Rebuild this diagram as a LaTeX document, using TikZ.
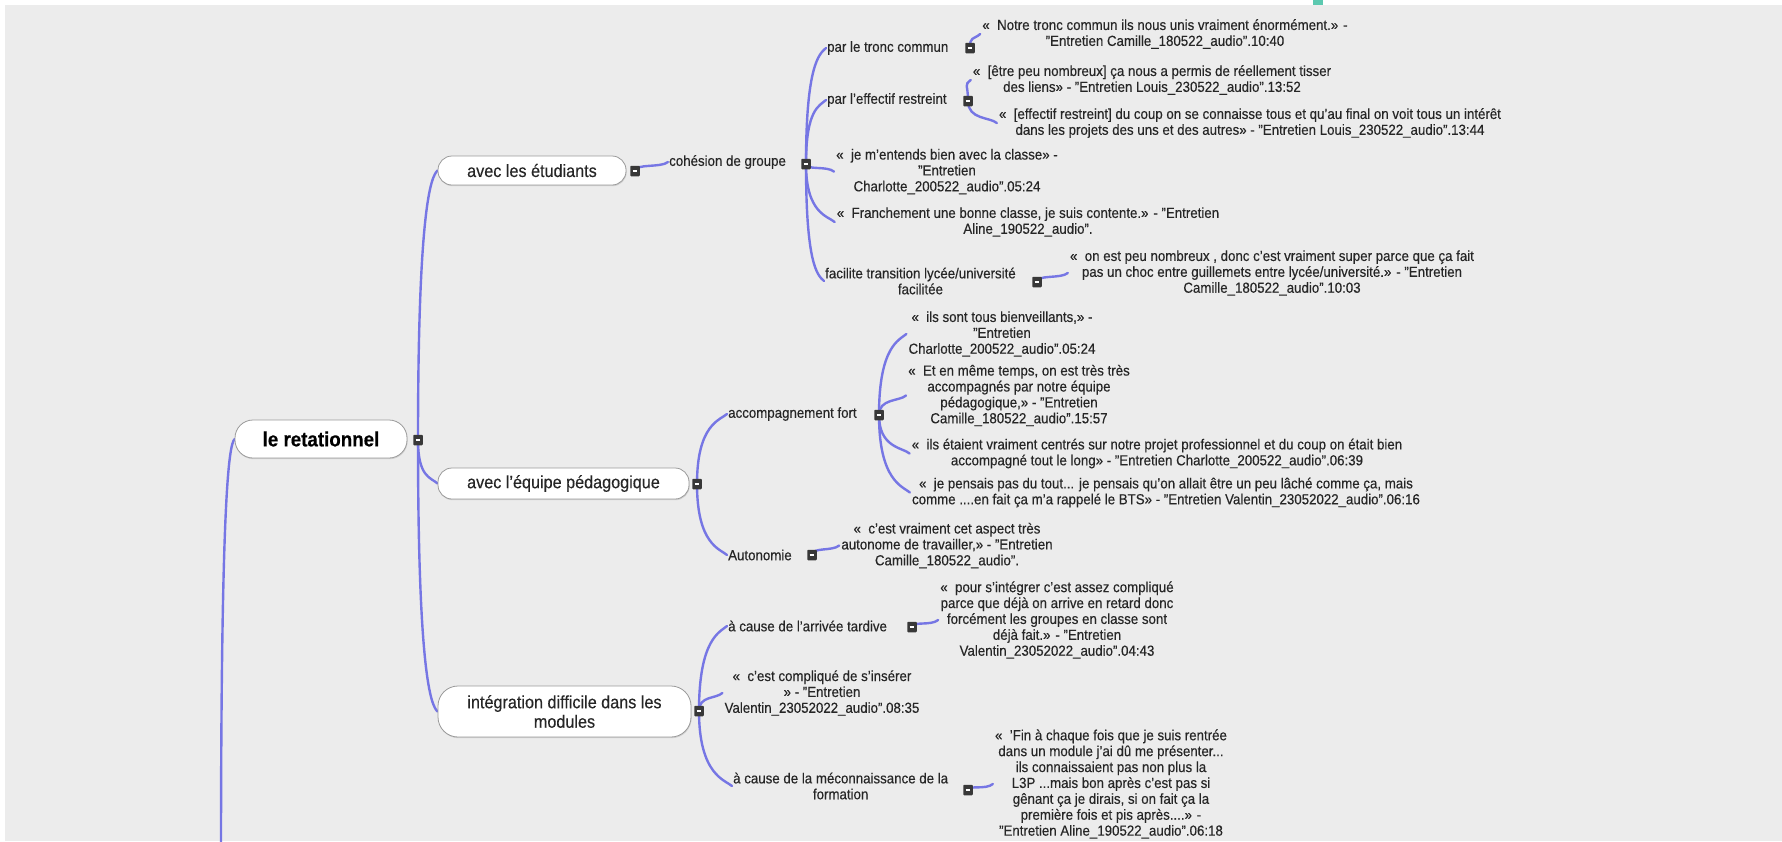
\documentclass[tikz,border=0pt]{standalone}
\usepackage{fontspec}
\setmainfont{Liberation Sans}[FakeStretch=0.91,FakeBold=0.3]
\usetikzlibrary{calc,shadows}
\definecolor{bgc}{HTML}{ECECEC}
\definecolor{linec}{HTML}{7676E4}
\definecolor{txtc}{HTML}{262626}
\definecolor{boxb}{HTML}{9A9A9A}
\definecolor{sqc}{HTML}{383838}
\definecolor{tealc}{HTML}{5CC9B0}
\pgfdeclarelayer{back}
\pgfdeclarelayer{conn}
\pgfsetlayers{back,conn,main}
\newcommand\fsS{\fontsize{14.6}{15.9}\selectfont}
\newcommand\fsM{\fontsize{17.8}{19.5}\selectfont}
\newcommand\fsL{\fontsize{20.6}{22}\selectfont\bfseries}
\begin{document}
\begin{tikzpicture}[x=1pt,y=-1pt,
  lvlbox/.style={draw=boxb, line width=0.8pt, fill=white, rounded corners=14pt, inner sep=0pt, align=center, text=txtc, font=\fsM, drop shadow={shadow xshift=0.6pt, shadow yshift=-1.2pt, opacity=0.25}},
  lbl/.style={anchor=west, inner sep=1pt, text=txtc, font=\fsS},
  lblc/.style={inner sep=1pt, text=txtc, font=\fsS, align=center},
  quote/.style={inner sep=2pt, text=txtc, font=\fsS, align=center},
  sq/.style={fill=sqc, minimum width=9.5pt, minimum height=10.5pt, inner sep=0pt, rounded corners=0.8pt, path picture={\draw[white,line width=1.2pt] ([xshift=-2.4pt]path picture bounding box.center) -- ([xshift=2.4pt]path picture bounding box.center);}},
  conn/.style={draw=linec, line width=2.4pt, line cap=round},
]
\begin{pgfonlayer}{back}
\fill[bgc] (0,0) rectangle (1782,841);
\fill[white] (0,0) rectangle (1782,5);
\fill[white] (0,0) rectangle (5,841);
\fill[tealc] (1313,0) rectangle (1323,5);
\end{pgfonlayer}
\useasboundingbox (0,0) rectangle (1782,841);

% level 0 and 1
\node[lvlbox, minimum width=172pt, minimum height=38pt, font=\fsL, rounded corners=18pt, text=black] (root) at (321,439) {le retationnel};
\node[lvlbox, minimum width=188pt, minimum height=29pt] (etu) at (532,170.5) {avec les étudiants};
\node[lvlbox, minimum width=251pt, minimum height=31pt] (equ) at (563.5,483.5) {avec l'équipe pédagogique};
\node[lvlbox, minimum width=253pt, minimum height=51pt, rounded corners=20pt] (int) at (564.5,711.5) {intégration difficile dans les\\modules};

% level 2/3 labels
\node[lbl] (coh) at (668,162) {cohésion de groupe};
\node[lbl] (tronc) at (826,48) {par le tronc commun};
\node[lbl] (eff) at (826,100) {par l'effectif restreint};
\node[lblc, anchor=west] (fac) at (824,281) {facilite transition lycée/université\\facilitée};
\node[lbl] (acc) at (727,414) {accompagnement fort};
\node[lbl] (aut) at (727,555) {Autonomie};
\node[lbl] (tard) at (727,626) {à cause de l'arrivée tardive};
\node[lblc, anchor=west] (mec) at (732,786) {à cause de la méconnaissance de la\\formation};

% quotes
\node[quote] (q1) at (1165,34) {«~ Notre tronc commun ils nous unis vraiment énormément.» -\\"Entretien Camille\_180522\_audio".10:40};
\node[quote] (q2) at (1152,80) {«~ [être peu nombreux] ça nous a permis de réellement tisser\\des liens» - "Entretien Louis\_230522\_audio".13:52};
\node[quote] (q3) at (1250,123) {«~ [effectif restreint] du coup on se connaisse tous et qu'au final on voit tous un intérêt\\dans les projets des uns et des autres» - "Entretien Louis\_230522\_audio".13:44};
\node[quote] (q4) at (947,171.6) {«~ je m'entends bien avec la classe» -\\"Entretien\\Charlotte\_200522\_audio".05:24};
\node[quote] (q5) at (1028,222) {«~ Franchement une bonne classe, je suis contente.» - "Entretien\\Aline\_190522\_audio".};
\node[quote] (q6) at (1272,273) {«~ on est peu nombreux , donc c'est vraiment super parce que ça fait\\pas un choc entre guillemets entre lycée/université.» - "Entretien\\Camille\_180522\_audio".10:03};
\node[quote] (q7) at (1002,334) {«~ ils sont tous bienveillants,» -\\"Entretien\\Charlotte\_200522\_audio".05:24};
\node[quote] (q8) at (1019,395.5) {«~ Et en même temps, on est très très\\accompagnés par notre équipe\\pédagogique,» - "Entretien\\Camille\_180522\_audio".15:57};
\node[quote] (q9) at (1157,453.5) {«~ ils étaient vraiment centrés sur notre projet professionnel et du coup on était bien\\accompagné tout le long» - "Entretien Charlotte\_200522\_audio".06:39};
\node[quote] (q10) at (1166,492.5) {«~ je pensais pas du tout... je pensais qu'on allait être un peu lâché comme ça, mais\\comme ....en fait ça m'a rappelé le BTS» - "Entretien Valentin\_23052022\_audio".06:16};
\node[quote] (q11) at (947,545.5) {«~ c'est vraiment cet aspect très\\autonome de travailler,» - "Entretien\\Camille\_180522\_audio".};
\node[quote] (q12) at (1057,620) {«~ pour s'intégrer c'est assez compliqué\\parce que déjà on arrive en retard donc\\forcément les groupes en classe sont\\déjà fait.» - "Entretien\\Valentin\_23052022\_audio".04:43};
\node[quote] (q13) at (822,693) {«~ c'est compliqué de s'insérer\\» - "Entretien\\Valentin\_23052022\_audio".08:35};
\node[quote] (q14) at (1111,784) {«~ 'Fin à chaque fois que je suis rentrée\\dans un module j'ai dû me présenter...\\ils connaissaient pas non plus la\\L3P ...mais bon après c'est pas si\\gênant ça je dirais, si on fait ça la\\première fois et pis après....» -\\"Entretien Aline\_190522\_audio".06:18};

% collapse squares
\node[sq] (sroot) at (418,440) {};
\node[sq] (setu) at (635,171) {};
\node[sq] (sequ) at (697,484) {};
\node[sq] (sint) at (699,711) {};
\node[sq] (scoh) at (806,164) {};
\node[sq] (stronc) at (970,48) {};
\node[sq] (seff) at (968,101) {};
\node[sq] (sfac) at (1037,282) {};
\node[sq] (sacc) at (879,415) {};
\node[sq] (saut) at (812,555) {};
\node[sq] (stard) at (912,627) {};
\node[sq] (smec) at (968,790) {};

% connectors
\coordinate (offp) at (221,860);
\begin{pgfonlayer}{conn}
\draw[conn] (offp) .. controls ($(offp)!0.85!(offp |- root.west)$) and ($(root.west)+(-6,6)$) .. (root.west);
% children above their parent
\foreach \p/\c in {sroot/etu, setu/coh, scoh/tronc, scoh/eff,
  stronc/q1, seff/q2, sfac/q6, sequ/acc, sacc/q7, sacc/q8, saut/q11,
  sint/tard, sint/q13, stard/q12, smec/q14}
  \draw[conn] (\p.center) .. controls ($(\p.center)!0.85!(\p.center |- \c.west)$) and ($(\c.west)+(-7,6)$) .. (\c.west);
% children below their parent
\foreach \p/\c in {sroot/equ, sroot/int, scoh/q4, scoh/q5, scoh/fac,
  seff/q3, sequ/aut, sacc/q9, sacc/q10, sint/mec}
  \draw[conn] (\p.center) .. controls ($(\p.center)!0.85!(\p.center |- \c.west)$) and ($(\c.west)+(-7,-6)$) .. (\c.west);
\end{pgfonlayer}
\end{tikzpicture}
\end{document}
